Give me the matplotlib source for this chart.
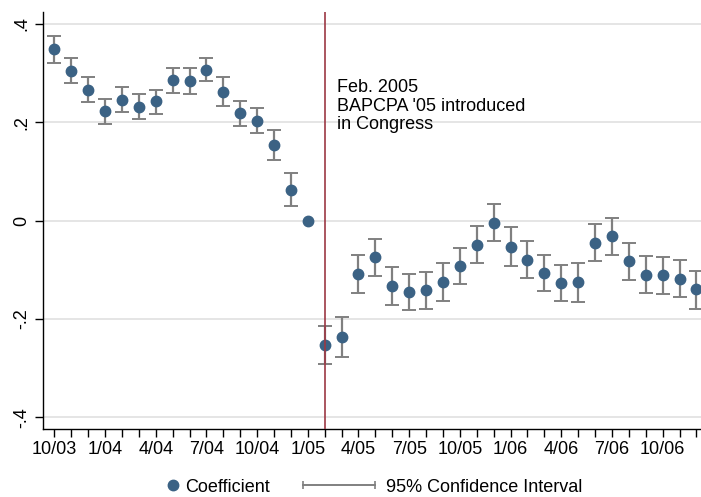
import matplotlib
matplotlib.use("Agg")
import matplotlib.pyplot as plt
from matplotlib.lines import Line2D
from matplotlib.legend_handler import HandlerLine2D
import numpy as np

plt.rcParams['font.family'] = ['Liberation Sans', 'DejaVu Sans']

months = ["10/03","11/03","12/03","1/04","2/04","3/04","4/04","5/04","6/04","7/04","8/04","9/04",
          "10/04","11/04","12/04","1/05","2/05","3/05","4/05","5/05","6/05","7/05","8/05","9/05",
          "10/05","11/05","12/05","1/06","2/06","3/06","4/06","5/06","6/06","7/06","8/06","9/06",
          "10/06","11/06","12/06"]
coef = [0.348, 0.304, 0.265, 0.223, 0.246, 0.231, 0.242, 0.285, 0.284, 0.307, 0.262, 0.218,
        0.202, 0.154, 0.063, 0.0, -0.254, -0.237, -0.109, -0.075, -0.134, -0.145, -0.142, -0.125,
        -0.092, -0.049, -0.005, -0.053, -0.080, -0.107, -0.127, -0.125, -0.045, -0.032, -0.083,
        -0.110, -0.111, -0.118, -0.140]
ci_hi = [0.376, 0.330, 0.291, 0.248, 0.272, 0.257, 0.266, 0.310, 0.310, 0.331, 0.291, 0.244,
         0.228, 0.185, 0.096, 0.0, -0.214, -0.197, -0.070, -0.037, -0.095, -0.108, -0.105, -0.087,
         -0.055, -0.012, 0.033, -0.014, -0.042, -0.071, -0.090, -0.087, -0.007, 0.005, -0.046,
         -0.073, -0.075, -0.080, -0.103]
ci_lo = [0.321, 0.280, 0.240, 0.197, 0.221, 0.207, 0.216, 0.260, 0.258, 0.283, 0.233, 0.192,
         0.177, 0.123, 0.030, 0.0, -0.292, -0.277, -0.147, -0.113, -0.172, -0.182, -0.180, -0.163,
         -0.130, -0.087, -0.041, -0.092, -0.117, -0.144, -0.164, -0.165, -0.082, -0.070, -0.121,
         -0.148, -0.149, -0.156, -0.179]
event_month = "2/05"
annotation = "Feb. 2005\nBAPCPA '05 introduced\nin Congress"
yticks = [-0.4, -0.2, 0.0, 0.2, 0.4]
ytick_labels = ["-.4", "-.2", "0", ".2", ".4"]

marker_color = "#3b6284"
ci_color = "#808080"
line_color = "#9c3844"

fig = plt.figure(figsize=(7.01, 4.97), dpi=100)
ax = fig.add_axes([43/701, 68/497, 1 - 43/701, 417/497])

x = np.arange(len(months))
coef = np.array(coef); ci_hi = np.array(ci_hi); ci_lo = np.array(ci_lo)
has_ci = ci_hi != ci_lo
ax.errorbar(x[has_ci], coef[has_ci],
            yerr=[coef[has_ci] - ci_lo[has_ci], ci_hi[has_ci] - coef[has_ci]],
            fmt='none', ecolor=ci_color, elinewidth=1.6, capsize=5, capthick=1.4, zorder=2)
ax.plot(x, coef, 'o', color=marker_color, markersize=7.5, zorder=3)

ev = months.index(event_month)
ax.axvline(ev, color=line_color, lw=1.2, zorder=4)
ax.text(ev + 0.7, 0.287, annotation, fontsize=13, va='top', ha='left', linespacing=1.1)

ax.set_xlim(-0.67, 38.27)
ax.set_ylim(-0.424, 0.424)
ax.set_xticks(x)
ax.set_xticklabels([m if i % 3 == 0 else "" for i, m in enumerate(months)], fontsize=13)
ax.set_yticks(yticks)
ax.set_yticklabels(ytick_labels, fontsize=13, rotation=90, va='center')
ax.tick_params(axis='both', length=6, width=1, color='black', pad=3)
ax.grid(axis='y', color='#e0e0e0', lw=1.2, zorder=0)
ax.set_axisbelow(True)
for s in ['top', 'right']:
    ax.spines[s].set_visible(False)
for s in ['left', 'bottom']:
    ax.spines[s].set_linewidth(1.0)

h1 = Line2D([], [], ls='none', marker='o', color=marker_color, markersize=7.5)
h2 = Line2D([], [], color=ci_color, lw=1.4, marker='|', markersize=6, markeredgewidth=1.2)
fig.legend([h1], ["Coefficient"], loc='center', bbox_to_anchor=(219/701, 0.02),
           frameon=False, fontsize=13, handlelength=0.6, handletextpad=0.35, borderpad=0)
fig.legend([h2], ["95% Confidence Interval"], loc='center', bbox_to_anchor=(440/701, 0.02),
           frameon=False, fontsize=13, handlelength=4.6, handletextpad=0.35, borderpad=0,
           handler_map={h2: HandlerLine2D(numpoints=2)})

fig.savefig("out.png", dpi=100)
